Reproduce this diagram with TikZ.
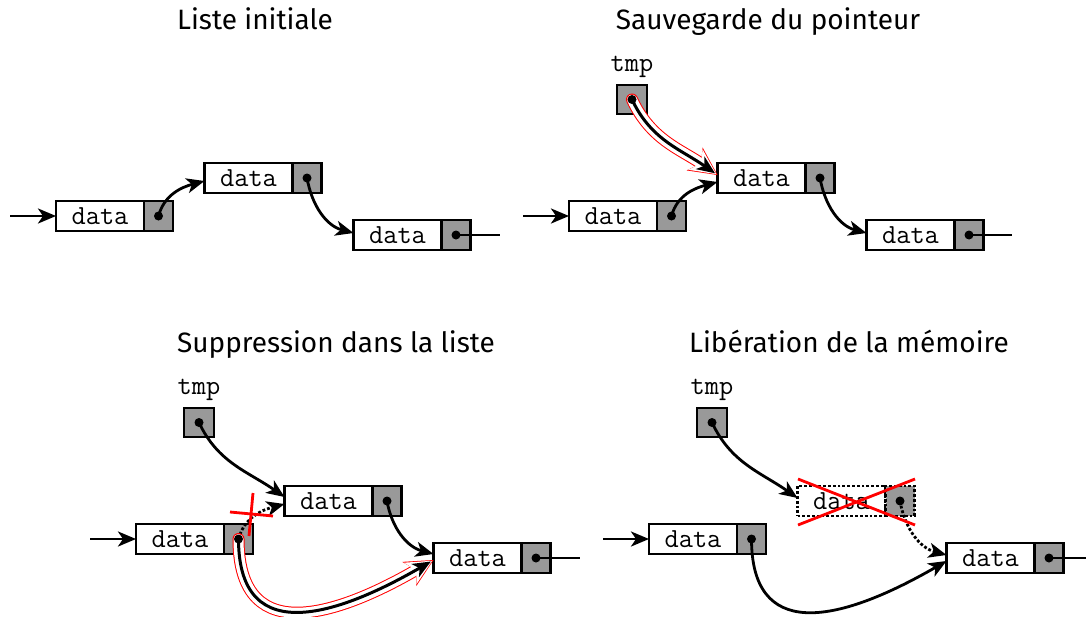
\documentclass[tikz,border=0pt]{standalone}
\usepackage{fontspec}
\newfontfamily\titlefont{Fira Sans}
\usetikzlibrary{arrows.meta}
\tikzset{
  box/.style={draw, line width=2.8pt, minimum height=30pt, inner sep=0pt, outer sep=0pt},
  databox/.style={box, fill=white, minimum width=88pt, font=\ttfamily\fontsize{27.6}{30}\selectfont},
  ptrbox/.style={box, fill=black!40, minimum width=29pt},
  freed/.style={dotted},
  lbl/.style={font=\ttfamily\fontsize{27.6}{30}\selectfont, anchor=base, inner sep=0pt},
  ttl/.style={font=\titlefont\fontsize{28}{32}\selectfont, anchor=base, inner sep=0pt},
  plain/.style={line width=2.8pt},
  link/.style={line width=2.8pt, -{Stealth[length=18pt,width=15pt,inset=5pt]}},
  hl/.style={line width=3pt, line cap=round, shorten >=3pt, -{Stealth[length=18pt,width=15pt,inset=5pt]},
    preaction={draw=red, line width=12pt, line cap=round, shorten >=0pt, -{Stealth[length=28pt,width=28pt,inset=8pt,line width=0pt]}},
    preaction={draw=white, line width=10pt, line cap=round, shorten >=1.5pt, -{Stealth[length=25.5pt,width=25pt,inset=7pt,line width=0pt]}}},
  crossline/.style={draw=red, line width=2.8pt},
}
\newcommand\lnode[3][]{%
  \node[databox,#1] (#2) at (#3) {data};
  \node[ptrbox,#1,anchor=west] (#2p) at (#2.east) {};
}
\newcommand\pdot[1]{\fill (#1.center) circle (4.5pt);}
\begin{document}
\begin{tikzpicture}[x=1pt,y=1pt]
\useasboundingbox (0,0) rectangle (1086,-616);

% ---------- Panel 1
\begin{scope}
\node[ttl] (t1) at (255,-29) {Liste initiale};
\lnode{p1a}{100,-216}
\lnode{p1b}{248.5,-178}
\lnode{p1c}{397.5,-235}
\coordinate (p1in) at (10,-216);
\coordinate (p1out) at (500,-235);
\draw[link] (p1in) -- (p1a.west);
\draw[link] (p1ap.center) to[out=75,in=195] ([yshift=-3pt]p1b.west);
\draw[link] (p1bp.center) to[out=-80,in=165] ([yshift=2pt]p1c.west);
\draw[plain] (p1cp.center) -- (p1out);
\pdot{p1ap}\pdot{p1bp}\pdot{p1cp}
\end{scope}

% ---------- Panel 2
\begin{scope}[shift={(513,0)}]
\node[ttl] (t2) at (255,-29) {Sauvegarde du pointeur};
\node[lbl] (p2tl) at (119,-71) {tmp};
\node[ptrbox, minimum width=30pt, minimum height=29pt] (p2t) at (119,-99.5) {};
\lnode{p2a}{100,-216}
\lnode{p2b}{248.5,-178}
\lnode{p2c}{397.5,-235}
\coordinate (p2in) at (10,-216);
\coordinate (p2out) at (499,-235);
\draw[link] (p2in) -- (p2a.west);
\draw[hl] (p2t.center) to[out=-65,in=145] ([yshift=3pt]p2b.west);
\draw[link] (p2ap.center) to[out=75,in=195] ([yshift=-4pt]p2b.west);
\draw[link] (p2bp.center) to[out=-80,in=165] ([yshift=2pt]p2c.west);
\draw[plain] (p2cp.center) -- (p2out);
\pdot{p2t}\pdot{p2ap}\pdot{p2bp}\pdot{p2cp}
\end{scope}

% ---------- Panel 3
\begin{scope}[shift={(80,-323)}]
\node[ttl] (t3) at (256,-29) {Suppression dans la liste};
\node[lbl] (p3tl) at (119,-71) {tmp};
\node[ptrbox, minimum width=30pt, minimum height=29pt] (p3t) at (119,-99.5) {};
\lnode{p3a}{100,-216}
\lnode{p3b}{248.5,-178}
\lnode{p3c}{397.5,-235}
\coordinate (p3in) at (10,-216);
\coordinate (p3out) at (500,-235);
\draw[link] (p3in) -- (p3a.west);
\draw[link] (p3t.center) to[out=-65,in=145] ([yshift=4pt]p3b.west);
\draw[link,dotted] (p3ap.center) to[out=75,in=195] ([yshift=-3pt]p3b.west);
\draw[link] (p3bp.center) to[out=-80,in=165] ([yshift=4pt]p3c.west);
\draw[plain] (p3cp.center) -- (p3out);
\draw[hl] (p3ap.center) .. controls +(0,-115) and +(-86.6,-50) .. ([yshift=-2pt]p3c.west);
\coordinate (p3x1) at (150,-189);
\coordinate (p3x2) at (193,-193);
\coordinate (p3x3) at (173,-170);
\coordinate (p3x4) at (169,-213);
\draw[crossline] (p3x1) -- (p3x2);
\draw[crossline] (p3x3) -- (p3x4);
\pdot{p3t}\pdot{p3ap}\pdot{p3bp}\pdot{p3cp}
\end{scope}

% ---------- Panel 4
\begin{scope}[shift={(593,-323)}]
\node[ttl] (t4) at (256,-29) {Libération de la mémoire};
\node[lbl] (p4tl) at (119,-71) {tmp};
\node[ptrbox, minimum width=30pt, minimum height=29pt] (p4t) at (119,-99.5) {};
\lnode{p4a}{100,-216}
\lnode[freed]{p4b}{248.5,-178}
\lnode{p4c}{397.5,-235}
\coordinate (p4in) at (10,-216);
\coordinate (p4out) at (500,-235);
\draw[link] (p4in) -- (p4a.west);
\draw[link] (p4t.center) to[out=-65,in=145] ([yshift=3pt]p4b.west);
\draw[link,dotted] (p4bp.center) to[out=-80,in=165] ([yshift=3pt]p4c.west);
\draw[link] (p4ap.center) .. controls +(0,-100) and +(-112.6,-65) .. ([yshift=-3pt]p4c.west);
\draw[plain] (p4cp.center) -- (p4out);
\pdot{p4t}\pdot{p4ap}\pdot{p4bp}\pdot{p4cp}
\coordinate (p4x1) at (205,-156);
\coordinate (p4x2) at (322,-202);
\coordinate (p4x3) at (205,-202);
\coordinate (p4x4) at (322,-156);
\draw[crossline] (p4x1) -- (p4x2);
\draw[crossline] (p4x3) -- (p4x4);
\end{scope}
\end{tikzpicture}
\end{document}
